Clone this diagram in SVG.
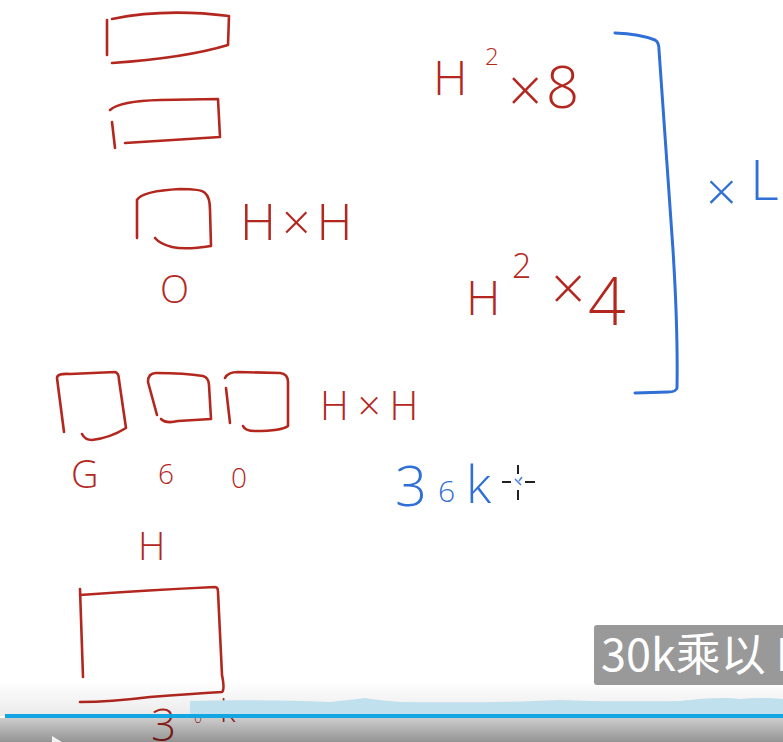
<svg xmlns="http://www.w3.org/2000/svg" width="783" height="742" viewBox="0 0 783 742">
<defs>
<style>
.r{fill:none;stroke:#b3271f;stroke-width:2.6;stroke-linecap:round;stroke-linejoin:round}
.b{fill:none;stroke:#2f6fd6;stroke-width:3;stroke-linecap:round;stroke-linejoin:round}
.tr{fill:#b3271f;font-family:"Open Sans","Lato",sans-serif;font-weight:300}
.tb{fill:#2f6fd6;font-family:"Open Sans","Lato",sans-serif;font-weight:300}
.cur{stroke:#222;stroke-width:2}
</style>
<linearGradient id="fade" x1="0" y1="0" x2="0" y2="1">
<stop offset="0" stop-color="#000" stop-opacity="0"/>
<stop offset="1" stop-color="#000" stop-opacity="0.08"/>
</linearGradient>
<linearGradient id="bar" x1="0" y1="0" x2="0" y2="1">
<stop offset="0" stop-color="#000" stop-opacity="0.2"/>
<stop offset="1" stop-color="#000" stop-opacity="0.42"/>
</linearGradient>
</defs>
<rect width="783" height="742" fill="#ffffff"/>

<g id="top-boxes">
<path class="r" d="M112,19 Q165,8 229,16 L228,45 Q185,58 112,63"/>
<path class="r" d="M107,20 L107,55"/>
<path class="r" d="M110,110 Q120,101 160,100 L218,99 L220,137 L125,143"/>
<path class="r" d="M112,122 L115,148"/>
<path class="r" d="M137,238 L137,200 Q142,191 180,189 Q202,189 205,193 Q210,197 210,210 L211,246 Q185,250 172,247 Q160,244 155,238"/>
<text class="tr" x="240" y="240" font-size="50" letter-spacing="6">H×H</text>
<text class="tr" x="160" y="303" font-size="38">O</text>
</g>

<g id="formulas">
<text class="tr" x="433" y="95" font-size="48">H</text>
<text class="tr" x="485" y="65" font-size="24">2</text>
<text class="tr" x="508" y="112" font-size="60">×</text>
<text class="tr" x="546" y="108" font-size="58">8</text>
<text class="tr" x="466" y="315" font-size="48">H</text>
<text class="tr" x="512" y="278" font-size="34">2</text>
<text class="tr" x="551" y="310" font-size="60">×</text>
<text class="tr" x="588" y="325" font-size="66">4</text>
</g>

<g id="bracket">
<path class="b" d="M615,33 Q640,34 655,40 Q659,42 659,50 Q666,150 673,250 Q678,330 677,388 Q676,392 668,392 L635,393"/>
<text class="tb" x="706" y="211" font-size="54">×</text>
<text class="tb" x="750" y="200" font-size="56">L</text>
</g>

<g id="gate-boxes">
<path class="r" d="M64,432 L57,378 Q57,373 70,374 L115,372 Q119,373 119,380 L126,428 Q110,438 92,440 Q85,440 82,434"/>
<path class="r" d="M157,415 L148,382 Q148,373 156,373 Q185,373 203,376 Q209,378 209,385 L211,419 Q195,420 178,421 Q166,424 161,419"/>
<path class="r" d="M225,378 Q228,372 238,372 L280,373 Q288,374 288,382 L288,426 Q282,431 255,431 Q245,431 243,426"/>
<path class="r" d="M226,388 L230,423"/>
<text class="tr" x="320" y="420" font-size="40" letter-spacing="9">H×H</text>
<text class="tr" x="71" y="488" font-size="38">G</text>
<text class="tr" x="158" y="484" font-size="28">6</text>
<text class="tr" x="231" y="488" font-size="28">0</text>
</g>

<g id="count">
<text class="tb" x="395" y="506" font-size="56">3</text>
<text class="tb" x="438" y="502" font-size="30">6</text>
<text class="tb" x="466" y="503" font-size="52">k</text>
<g id="cursor">
<path class="cur" d="M502,482 H511 M525,482 H535 M518,465 V474 M518,490 V500"/>
<path d="M515,479 L521,485 M522,477 L519,481" stroke="#4a7be0" stroke-width="1.5" fill="none"/>
</g>
</g>

<g id="output-box">
<text class="tr" x="138" y="560" font-size="38">H</text>
<path class="r" d="M80,589 L83,677"/>
<path class="r" d="M80,595 Q150,590 215,587 Q218,587 218,592 L222,675 Q225,690 222,692 Q190,694 150,697 Q110,702 80,702"/>
<text class="tr" x="151" y="741" font-size="44">3</text>
<text class="tr" x="194" y="723" font-size="14">0</text>
<text class="tr" x="220" y="722" font-size="32">k</text>
</g>

<g id="player">
<rect x="0" y="680" width="783" height="36" fill="url(#fade)"/>
<path d="M190,716 L190,701 Q250,699 330,702 Q350,700 365,698 Q375,700 400,702 Q500,703 560,700 Q600,702 680,701 Q720,696 740,699 Q760,697 783,699 L783,716 Z" fill="#bfe0ec"/>
<rect x="5" y="714" width="778" height="4" fill="#14a6e2"/>
<rect x="0" y="718" width="783" height="24" fill="url(#bar)"/>
<path d="M52,736 L62,742 L52,742 Z" fill="#f2f2f2"/>
</g>

<g id="subtitle">
<rect x="594" y="625" width="200" height="60" rx="3" fill="#999999"/>
<text x="601" y="671" font-size="45" fill="#ffffff" font-family="'Noto Sans CJK SC','Noto Sans',sans-serif">30k乘以 H</text>
</g>
</svg>
